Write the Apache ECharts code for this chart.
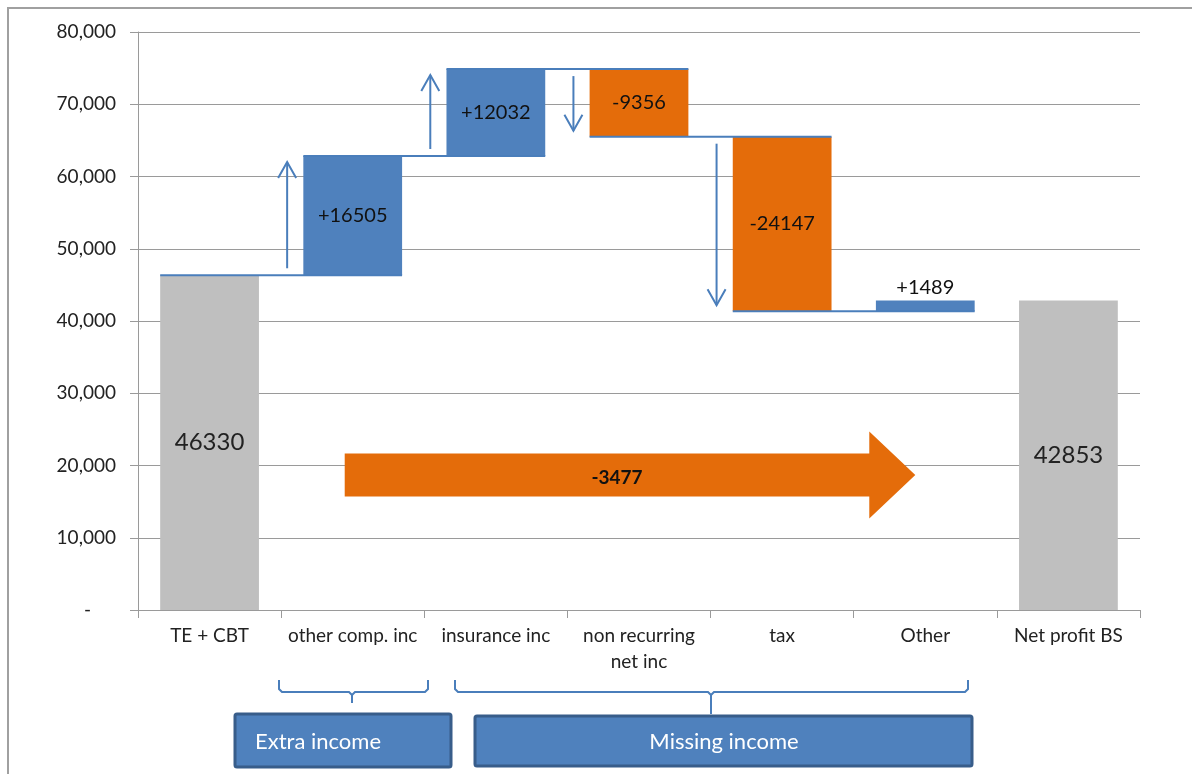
<!DOCTYPE html>
<html><head><meta charset="utf-8">
<script src="https://cdn.jsdelivr.net/npm/echarts@6/dist/echarts.min.js"></script>
<style>html,body{margin:0;padding:0;background:#fff}#c{width:1192px;height:774px}</style>
</head><body><div id="c"></div>
<script>
// ---- data ----
const categories = ['TE + CBT', 'other comp. inc', 'insurance inc', 'non recurring\nnet inc', 'tax', 'Other', 'Net profit BS'];
const startTotal = 46330;
const changes = [16505, 12032, -9356, -24147, 1489];
const endTotal = 42853;
const yMin = 0, yMax = 80000, yStep = 10000;
const groupLabels = ['Extra income', 'Missing income'];

// ---- styles ----
const FONT = 'Lato';
const BLUE = '#4f81bd', ORANGE = '#e46c0a', GRAY = '#bfbfbf', LINE = '#4a7ebb', AXIS = '#9a9a9a';
const BAR_RATIO = 0.69;
const ARROW_LEVEL = 18700;

// ---- derived ----
const levels = [startTotal];
changes.forEach(c => levels.push(levels[levels.length - 1] + c));
const n = categories.length;
const placeholder = [], posData = [], negData = [], totalData = [];
for (let i = 0; i < n; i++) { placeholder.push('-'); posData.push('-'); negData.push('-'); totalData.push('-'); }
totalData[0] = startTotal; totalData[n - 1] = endTotal;
changes.forEach((c, k) => {
  const i = k + 1;
  placeholder[i] = Math.min(levels[k], levels[k + 1]);
  const small = Math.abs(c) < 3000;
  const item = { value: Math.abs(c) };
  if (small) item.label = { position: 'top', distance: 3 };
  if (c >= 0) posData[i] = item; else negData[i] = item;
});
const connectorData = levels.slice(0, changes.length).map((v, i) => [i, v, levels[i + 1], i < 4 ? 1 : 0]);
const netChange = endTotal - startTotal;

function bracket(x1, x2, xm, yTop, yMid, yStem) {
  return [[x1, yTop], [x1, yMid - 3], [x1 + 3, yMid], [xm - 3, yMid], [xm, yMid + 3], [xm, yStem], [xm, yMid + 3], [xm + 3, yMid], [x2 - 3, yMid], [x2, yMid - 3], [x2, yTop]];
}

const chart = echarts.init(document.getElementById('c'));
chart.setOption({
  animation: false,
  backgroundColor: '#fff',
  textStyle: { fontFamily: FONT },
  grid: { left: 138, right: 52, top: 32, bottom: 164 },
  xAxis: {
    type: 'category', data: categories,
    axisLine: { lineStyle: { color: AXIS } },
    axisTick: { show: true, length: 8, lineStyle: { color: AXIS } },
    axisLabel: { interval: 0, color: '#222', fontSize: 19, margin: 13, lineHeight: 26, fontFamily: FONT }
  },
  yAxis: {
    type: 'value', min: yMin, max: yMax, interval: yStep,
    axisLine: { show: true, lineStyle: { color: AXIS } },
    axisTick: { show: true, length: 8, lineStyle: { color: AXIS } },
    splitLine: { lineStyle: { color: AXIS } },
    axisLabel: {
      color: '#222', fontSize: 19, margin: 22, fontFamily: FONT,
      formatter: v => v === 0 ? '{z|-}' : v.toLocaleString('en-US'),
      rich: { z: { padding: [0, 25, 0, 0], fontSize: 19, color: '#222' } }
    }
  },
  series: [
    { type: 'bar', stack: 'w', data: placeholder, barWidth: (BAR_RATIO * 100) + '%',
      itemStyle: { color: 'transparent' }, silent: true },
    { type: 'bar', stack: 'w', data: posData, itemStyle: { color: BLUE },
      label: { show: true, position: 'inside', formatter: p => '+' + p.value, color: '#111', fontSize: 20, fontFamily: FONT } },
    { type: 'bar', stack: 'w', data: negData, itemStyle: { color: ORANGE },
      label: { show: true, position: 'inside', formatter: p => '-' + p.value, color: '#111', fontSize: 20, fontFamily: FONT } },
    { type: 'bar', stack: 'w', data: totalData, itemStyle: { color: GRAY },
      label: { show: true, position: 'inside', color: '#222', fontSize: 24, fontFamily: FONT } },
    { type: 'custom', data: connectorData, z: 5, silent: true,
      renderItem: (params, api) => {
        const i = api.value(0), v = api.value(1), nv = api.value(2), hasArrow = api.value(3);
        const band = api.size([1, 0])[0];
        const bw = band * BAR_RATIO;
        const p0 = api.coord([i, v]);
        const p1 = api.coord([i + 1, v]);
        const children = [{ type: 'line', shape: { x1: p0[0] - bw / 2, y1: p0[1], x2: p1[0] + bw / 2, y2: p1[1] },
          style: { stroke: LINE, lineWidth: 2 } }];
        if (hasArrow) {
          const x = (p0[0] + p1[0]) / 2 + 6;
          const yEnd = api.coord([i + 1, nv])[1];
          const dir = yEnd < p0[1] ? -1 : 1;
          const ys = p0[1] + dir * 7, ye = yEnd - dir * 6;
          children.push({ type: 'line', shape: { x1: x, y1: ys, x2: x, y2: ye }, style: { stroke: LINE, lineWidth: 2 } });
          children.push({ type: 'polyline', shape: { points: [[x - 9, ye - dir * 16], [x, ye], [x + 9, ye - dir * 16]] },
            style: { stroke: LINE, lineWidth: 2, fill: null } });
        }
        return { type: 'group', children };
      } },
    { type: 'custom', data: [[1, 5, netChange]], z: 6, silent: true,
      renderItem: (params, api) => {
        const a = api.coord([api.value(0), ARROW_LEVEL]);
        const b = api.coord([api.value(1), ARROW_LEVEL]);
        const x0 = a[0] - 8, xt = b[0] - 10, yc = a[1];
        const hl = 46, sh = 21.5, hh = 43.5;
        const val = api.value(2);
        return { type: 'group', children: [
          { type: 'polygon', shape: { points: [[x0, yc - sh], [xt - hl, yc - sh], [xt - hl, yc - hh], [xt, yc], [xt - hl, yc + hh], [xt - hl, yc + sh], [x0, yc + sh]] },
            style: { fill: ORANGE } },
          { type: 'text', style: { text: String(val), x: (x0 + xt - hl) / 2 + 10, y: yc + 3, align: 'center', verticalAlign: 'middle',
            fontSize: 19, fontWeight: 'bold', fontFamily: FONT, fill: '#111' } }
        ] };
      } }
  ],
  graphic: [
    { type: 'polyline', shape: { points: [[8, 774], [8, 8], [1192, 8]] }, style: { stroke: '#a0a0a0', lineWidth: 2, fill: null }, silent: true },
    { type: 'polyline', shape: { points: bracket(279, 428, 352, 680, 692, 703) }, style: { stroke: LINE, lineWidth: 2, fill: null }, silent: true },
    { type: 'polyline', shape: { points: bracket(455, 968, 711, 680, 692, 714) }, style: { stroke: LINE, lineWidth: 2, fill: null }, silent: true },
    { type: 'rect', shape: { x: 235, y: 714, width: 216, height: 53, r: 2 }, style: { fill: BLUE, stroke: '#385d8a', lineWidth: 3 }, silent: true },
    { type: 'text', style: { text: groupLabels[0], x: 255, y: 742, verticalAlign: 'middle', fill: '#fff', fontSize: 22, fontFamily: FONT }, silent: true },
    { type: 'rect', shape: { x: 475, y: 716, width: 497, height: 50, r: 2 }, style: { fill: BLUE, stroke: '#385d8a', lineWidth: 3 }, silent: true },
    { type: 'text', style: { text: groupLabels[1], x: 724, y: 742, align: 'center', verticalAlign: 'middle', fill: '#fff', fontSize: 22, fontFamily: FONT }, silent: true }
  ]
});
</script></body></html>
